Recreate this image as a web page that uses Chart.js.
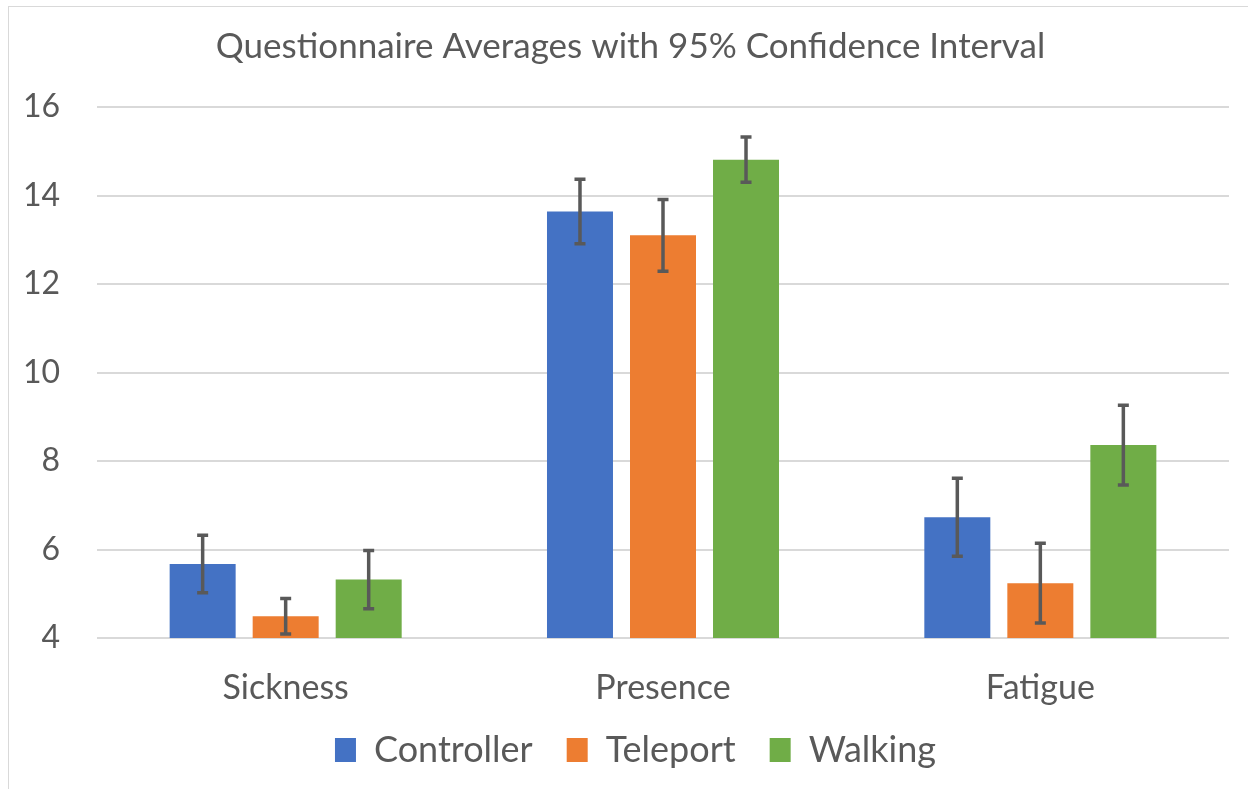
<!DOCTYPE html>
<html>
<head>
<meta charset="utf-8">
<script src="https://cdn.jsdelivr.net/npm/chart.js@4.4.1/dist/chart.umd.min.js"></script>
<style>
  html, body { margin: 0; padding: 0; background: #fff; overflow: hidden; }
  #wrap { position: relative; width: 1248px; height: 789px; }
  #frame { position: absolute; left: 8px; top: 6px; width: 1400px; height: 1000px;
           border: 1px solid #d9d9d9; box-sizing: border-box; pointer-events: none; }
  canvas { position: absolute; left: 0; top: 0; }
</style>
</head>
<body>
<div id="wrap">
  <canvas id="c" width="1248" height="789"></canvas>
  <div id="frame"></div>
</div>
<script>
const categories = ["Sickness", "Presence", "Fatigue"];
const seriesNames = ["Controller", "Teleport", "Walking"];
const controllerValues = [5.67, 13.64, 6.73];
const teleportValues   = [4.49, 13.10, 5.24];
const walkingValues    = [5.32, 14.81, 8.36];
const controllerErrors = [0.65, 0.73, 0.88];
const teleportErrors   = [0.40, 0.81, 0.90];
const walkingErrors    = [0.66, 0.51, 0.90];
const yTicks = [4, 6, 8, 10, 12, 14, 16];
const titleText = "Questionnaire Averages with 95% Confidence Interval";

const colors = ["#4472C4", "#ED7D31", "#70AD47"];
const allValues = [controllerValues, teleportValues, walkingValues];
const allErrors = [controllerErrors, teleportErrors, walkingErrors];
const textColor = "#595959";
const FONT = "Lato, 'Open Sans', sans-serif";

const errorBars = {
  id: "errorBars",
  afterDatasetsDraw(chart) {
    const ctx = chart.ctx;
    const yScale = chart.scales.y;
    ctx.save();
    ctx.strokeStyle = "#595959";
    ctx.lineWidth = 3.5;
    ctx.lineCap = "butt";
    chart.data.datasets.forEach((ds, di) => {
      const meta = chart.getDatasetMeta(di);
      meta.data.forEach((bar, i) => {
        const v = ds.data[i];
        const e = ds.errors[i];
        const x = bar.x;
        const yt = yScale.getPixelForValue(v + e);
        const yb = yScale.getPixelForValue(v - e);
        ctx.beginPath();
        ctx.moveTo(x, yt); ctx.lineTo(x, yb);
        ctx.moveTo(x - 5.5, yt); ctx.lineTo(x + 5.5, yt);
        ctx.moveTo(x - 5.5, yb); ctx.lineTo(x + 5.5, yb);
        ctx.stroke();
      });
    });
    ctx.restore();
  }
};

// Let category labels draw past the x-scale box and centre title/legend like the original frame
const layoutTweaks = {
  id: "layoutTweaks",
  afterLayout(chart) {
    chart.scales.x.bottom += 40;
    if (chart.legend) { chart.legend.left += 21; chart.legend.right += 21; }
    if (chart.titleBlock) { chart.titleBlock.left += 16; chart.titleBlock.right += 16; }
  }
};

new Chart(document.getElementById("c"), {
  type: "bar",
  data: {
    labels: categories,
    datasets: seriesNames.map((name, k) => ({
      label: name,
      data: allValues[k],
      errors: allErrors[k],
      backgroundColor: colors[k],
      borderWidth: 0,
      categoryPercentage: 0.66,
      barPercentage: 0.795
    }))
  },
  options: {
    responsive: false,
    animation: false,
    devicePixelRatio: 1,
    layout: { padding: { left: 0, right: 19, top: 0, bottom: 11 } },
    plugins: {
      title: {
        display: true,
        text: titleText,
        color: textColor,
        font: { family: FONT, size: 35, weight: "normal" },
        padding: { top: 26, bottom: 39 }
      },
      legend: {
        display: true,
        position: "bottom",
        labels: {
          color: textColor,
          font: { family: FONT, size: 36 },
          boxWidth: 21,
          boxHeight: 24,
          padding: 34
        }
      },
      tooltip: { enabled: false }
    },
    scales: {
      x: {
        grid: { display: false },
        border: { display: false },
        ticks: { color: textColor, font: { family: FONT, size: 34 }, padding: 22 },
        afterFit(scale) { scale.height = 60; }
      },
      y: {
        min: 4,
        max: 16,
        afterBuildTicks(scale) { scale.ticks = yTicks.map(v => ({ value: v })); },
        grid: { color: "#d9d9d9", lineWidth: 2, drawTicks: false },
        border: { display: false },
        ticks: { color: textColor, font: { family: FONT, size: 32 }, padding: 37 },
        afterFit(scale) { scale.width = 97; }
      }
    }
  },
  plugins: [errorBars, layoutTweaks]
});
</script>
</body>
</html>
